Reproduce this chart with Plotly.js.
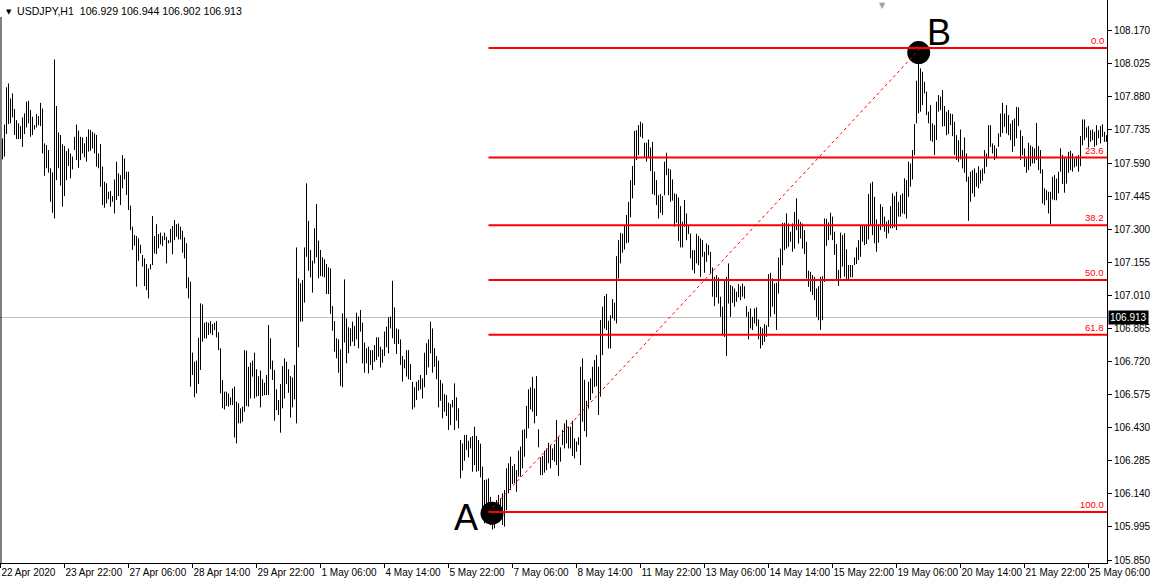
<!DOCTYPE html>
<html>
<head>
<meta charset="utf-8">
<script src="https://cdn.plot.ly/plotly-3.0.1.min.js"></script>
<style>
html,body{margin:0;padding:0;background:#fff;}
#chart{width:1155px;height:580px;}
</style>
</head>
<body>
<div id="chart"></div>
<script>
// ---- data ----
const symbol = 'USDJPY,H1';
const lastQuote = [106.929, 106.944, 106.902, 106.913]; // open high low close
const currentPrice = 106.913;
const firstBar = 1; // bar 0 is hidden under the left frame

const high = [
107.698,107.759,107.922,107.939,107.873,107.895,107.827,107.778,107.764,107.752,
107.790,107.808,107.859,107.863,107.822,107.793,107.756,107.805,107.796,107.854,
107.829,107.676,107.669,107.647,107.567,107.549,108.044,107.840,107.724,107.713,
107.672,107.664,107.642,107.654,107.632,107.618,107.705,107.759,107.732,107.705,
107.702,107.676,107.705,107.737,107.735,107.727,107.720,107.713,107.632,107.673,
107.574,107.508,107.501,107.464,107.467,107.445,107.518,107.596,107.545,107.537,
107.625,107.610,107.552,107.552,107.403,107.311,107.274,107.270,107.260,107.232,
107.187,107.172,107.147,107.128,107.147,107.358,107.270,107.322,107.279,107.285,
107.270,107.285,107.267,107.252,107.301,107.314,107.340,107.322,107.325,107.311,
107.293,107.264,107.238,107.089,107.070,106.759,106.719,106.724,106.824,106.975,
106.970,106.890,106.894,106.890,106.897,106.884,106.890,106.897,106.848,106.778,
106.639,106.588,106.588,106.580,106.563,106.602,106.610,106.544,106.537,106.515,
106.522,106.770,106.767,106.697,106.715,106.724,106.759,106.686,106.656,106.680,
106.642,106.627,106.661,106.880,106.822,106.724,106.683,106.598,106.551,106.621,
106.700,106.734,106.719,106.686,106.656,106.650,106.705,107.220,107.085,107.063,
107.077,107.220,107.501,107.337,107.209,107.162,107.304,107.410,107.250,107.209,
107.177,107.168,107.147,107.133,107.128,106.963,106.897,106.822,106.817,106.773,
106.931,107.080,106.909,106.870,106.865,106.895,106.876,106.934,106.917,106.946,
106.890,106.803,106.778,106.785,106.770,106.770,106.792,106.826,106.826,106.785,
106.773,106.851,106.873,106.914,106.917,107.074,106.957,106.865,106.861,106.817,
106.744,106.729,106.770,106.770,106.709,106.631,106.607,106.631,106.639,106.661,
106.646,106.759,106.800,106.817,106.895,106.865,106.778,106.744,106.724,106.639,
106.624,106.577,106.573,106.540,106.534,106.551,106.624,106.563,106.515,106.376,
106.361,106.398,106.398,106.373,106.388,106.393,106.434,106.393,106.376,106.360,
106.259,106.201,106.203,106.208,106.127,106.098,106.098,106.113,106.135,106.120,
106.142,106.157,106.252,106.274,106.303,106.262,106.271,106.244,106.329,106.347,
106.420,106.423,106.525,106.598,106.607,106.653,106.602,106.656,106.423,106.300,
106.306,106.329,106.339,106.364,106.354,106.339,106.358,106.464,106.390,106.344,
106.420,106.449,106.464,106.434,106.434,106.461,106.383,106.369,106.388,106.697,
106.734,106.640,106.548,106.631,106.646,106.697,106.726,106.748,106.697,106.902,
106.960,107.007,107.016,106.899,106.923,106.994,106.978,107.182,107.252,107.284,
107.281,107.318,107.362,107.420,107.515,107.577,107.731,107.734,107.756,107.771,
107.764,107.679,107.679,107.693,107.658,107.683,107.552,107.515,107.449,107.454,
107.445,107.596,107.635,107.566,107.562,107.518,107.457,107.454,107.439,107.401,
107.333,107.428,107.369,107.318,107.281,107.208,107.208,107.280,107.270,107.259,
107.252,107.201,107.237,107.230,107.201,107.132,107.091,107.099,107.088,107.004,
106.960,107.077,107.091,107.150,107.055,107.050,107.040,107.026,107.059,107.050,
107.062,107.050,106.963,106.938,106.953,106.916,106.953,106.957,106.904,106.872,
106.865,106.884,106.879,107.103,107.109,107.084,107.062,107.065,107.176,107.215,
107.328,107.328,107.369,107.325,107.289,107.325,107.376,107.435,107.343,107.332,
107.325,107.296,107.245,107.118,107.113,107.099,107.091,107.040,107.050,107.091,
107.094,107.347,107.345,107.330,107.372,107.355,107.289,107.235,107.121,107.285,
107.274,107.282,107.212,107.143,107.143,107.143,107.176,107.220,107.252,107.318,
107.318,107.318,107.318,107.454,107.501,107.508,107.442,107.343,107.318,107.410,
107.398,107.355,107.333,107.340,107.401,107.457,107.445,107.464,107.420,107.450,
107.457,107.523,107.515,107.596,107.588,107.647,107.761,107.951,108.070,108.005,
107.990,107.946,107.903,107.815,107.844,107.764,107.756,107.859,107.888,107.881,
107.910,107.840,107.815,107.822,107.807,107.804,107.771,107.712,107.690,107.737,
107.647,107.702,107.632,107.530,107.552,107.559,107.566,107.547,107.576,107.559,
107.566,107.647,107.632,107.756,107.756,107.676,107.668,107.654,107.720,107.807,
107.854,107.807,107.844,107.800,107.763,107.778,107.785,107.836,107.834,107.734,
107.708,107.654,107.610,107.679,107.668,107.661,107.654,107.766,107.664,107.647,
107.562,107.479,107.471,107.464,107.464,107.530,107.537,107.522,107.552,107.654,
107.625,107.614,107.610,107.639,107.644,107.632,107.610,107.620,107.625,107.708,
107.781,107.781,107.746,107.752,107.734,107.737,107.727,107.756,107.734,107.752,
107.760,107.727,107.712
];

const low = [
107.606,107.618,107.717,107.761,107.764,107.790,107.713,107.695,107.695,107.695,
107.661,107.717,107.746,107.764,107.705,107.713,107.737,107.746,107.756,107.752,
107.632,107.534,107.567,107.548,107.420,107.372,107.347,107.515,107.567,107.491,
107.399,107.445,107.515,107.577,107.523,107.562,107.647,107.603,107.569,107.603,
107.632,107.615,107.596,107.640,107.644,107.654,107.632,107.574,107.567,107.486,
107.406,107.394,107.413,107.431,107.399,107.420,107.369,107.428,107.445,107.406,
107.479,107.518,107.450,107.384,107.296,107.209,107.228,107.048,107.162,107.194,
107.136,107.051,107.033,106.997,107.124,107.143,107.194,107.191,107.216,107.233,
107.226,107.252,107.150,107.238,107.241,107.190,107.252,107.267,107.255,107.255,
107.197,107.172,107.041,106.997,106.610,106.661,106.563,106.580,106.621,106.683,
106.807,106.821,106.821,106.836,106.843,106.836,106.858,106.826,106.770,106.580,
106.515,106.510,106.525,106.522,106.529,106.529,106.387,106.361,106.449,106.449,
106.456,106.500,106.525,106.522,106.558,106.654,106.558,106.566,106.569,106.519,
106.569,106.573,106.573,106.573,106.686,106.639,106.461,106.507,106.486,106.408,
106.515,106.558,106.621,106.583,106.474,106.519,106.554,106.449,106.782,106.895,
106.895,106.978,107.179,107.118,107.089,107.022,107.150,107.177,107.085,107.095,
107.092,107.089,107.016,107.016,106.928,106.855,106.763,106.734,106.671,106.613,
106.607,106.803,106.712,106.756,106.788,106.807,106.788,106.817,106.778,106.851,
106.712,106.671,106.712,106.668,106.705,106.683,106.719,106.727,106.741,106.694,
106.715,106.744,106.782,106.756,106.865,106.822,106.797,106.753,106.797,106.705,
106.632,106.690,106.654,106.642,106.639,106.510,106.519,106.551,106.592,106.598,
106.558,106.607,106.661,106.694,106.756,106.671,106.697,106.642,106.519,106.548,
106.471,106.500,106.481,106.420,106.442,106.519,106.420,106.461,106.427,106.208,
106.242,106.285,106.332,106.300,106.339,106.237,106.266,106.237,106.240,106.212,
106.040,106.011,106.011,106.018,106.003,105.984,105.989,106.040,106.054,106.062,
106.003,105.996,106.069,106.142,106.157,106.183,106.186,106.149,106.215,106.215,
106.252,106.303,106.383,106.427,106.510,106.500,106.449,106.481,106.344,106.222,
106.222,106.233,106.244,106.274,106.252,106.288,106.281,106.266,106.218,106.281,
106.354,106.339,106.361,106.339,106.339,106.306,106.296,106.325,106.354,106.266,
106.456,106.415,106.390,106.514,106.551,106.580,106.609,106.612,106.485,106.566,
106.748,106.865,106.858,106.777,106.777,106.909,106.899,106.887,107.084,107.150,
107.197,107.211,107.238,107.241,107.352,107.435,107.493,107.603,107.625,107.705,
107.698,107.617,107.596,107.617,107.555,107.454,107.449,107.406,107.347,107.372,
107.362,107.449,107.537,107.449,107.420,107.425,107.311,107.328,107.249,107.220,
107.220,107.311,107.252,107.279,107.172,107.121,107.106,107.150,107.142,107.091,
107.179,107.109,107.157,107.186,107.106,107.004,106.963,107.001,106.974,106.916,
106.836,106.828,106.744,106.974,106.916,106.977,106.960,106.982,107.001,106.989,
107.004,106.996,106.916,106.817,106.865,106.858,106.887,106.875,106.817,106.777,
106.792,106.806,106.828,106.872,106.916,106.960,106.928,106.858,107.018,107.077,
107.142,107.208,107.215,107.223,107.245,107.201,107.215,107.296,107.237,107.259,
107.215,107.191,107.084,107.047,107.026,107.011,106.989,106.916,106.901,106.858,
106.901,107.069,107.227,107.252,107.274,107.252,107.187,107.077,107.051,107.084,
107.136,107.092,107.074,107.077,107.089,107.089,107.143,107.147,107.165,107.179,
107.245,107.230,107.235,107.255,107.318,107.274,107.238,107.201,107.241,107.296,
107.311,107.289,107.260,107.282,107.304,107.304,107.308,107.296,107.355,107.355,
107.369,107.366,107.347,107.442,107.486,107.518,107.625,107.764,107.808,107.815,
107.844,107.895,107.800,107.764,107.688,107.683,107.625,107.691,107.815,107.822,
107.750,107.752,107.712,107.717,107.756,107.708,107.625,107.603,107.595,107.606,
107.566,107.547,107.508,107.337,107.420,107.457,107.442,107.486,107.479,107.500,
107.512,107.544,107.573,107.610,107.661,107.632,107.603,107.610,107.661,107.705,
107.722,107.749,107.720,107.712,107.690,107.639,107.664,107.698,107.752,107.603,
107.625,107.573,107.547,107.559,107.576,107.588,107.588,107.603,107.559,107.544,
107.413,107.405,107.427,107.369,107.322,107.430,107.427,107.427,107.457,107.552,
107.498,107.460,107.500,107.547,107.559,107.552,107.571,107.576,107.552,107.576,
107.668,107.690,107.702,107.658,107.683,107.690,107.661,107.668,107.698,107.676,
107.705,107.683,107.683
];

const xTickBars = [0,32,64,96,128,160,192,224,256,288,320,352,384,416,448,480,512,544];
const xTickText = ['22 Apr 2020','23 Apr 22:00','27 Apr 06:00','28 Apr 14:00','29 Apr 22:00',
  '1 May 06:00','4 May 14:00','5 May 22:00','7 May 06:00','8 May 14:00','11 May 22:00',
  '13 May 06:00','14 May 14:00','15 May 22:00','19 May 06:00','20 May 14:00','21 May 22:00','25 May 06:00'];
const yTickVals = [105.850,105.995,106.140,106.285,106.430,106.575,106.720,106.865,107.010,
  107.155,107.300,107.445,107.590,107.735,107.880,108.025,108.170];

// Fibonacci retracement (A -> B)
const fibLevels = [0.0, 23.6, 38.2, 50.0, 61.8, 100.0];
const fibPriceHigh = 108.094;   // level 0.0
const fibPriceLow = 106.060;    // level 100.0
const fibStartBar = 244;
const fibEndBar = 460;
const pointA = {label:'A', bar:245.75, price:106.055};
const pointB = {label:'B', bar:459.1, price:108.074};

// ---- build traces ----
const segX = [], segY = [];
for (let k = 0; k < high.length; k++) {
  const b = firstBar + k;
  segX.push(b, b, null);
  segY.push(low[k], high[k], null);
}
const barsTrace = {
  type:'scatter', mode:'lines', x:segX, y:segY,
  line:{color:'#000000', width:1}, hoverinfo:'skip', showlegend:false
};
const pointsTrace = {
  type:'scatter', mode:'markers',
  x:[pointA.bar, pointB.bar], y:[pointA.price, pointB.price],
  marker:{color:'#000000', size:23, line:{width:0}},
  cliponaxis:false, hoverinfo:'skip', showlegend:false
};

const fibPrice = l => fibPriceHigh - (fibPriceHigh - fibPriceLow) * l / 100;
const shapes = [];
const annotations = [];
const red = '#ff0000';
fibLevels.forEach(l => {
  shapes.push({type:'line', xref:'x', yref:'y', x0:fibStartBar, x1:700, y0:fibPrice(l), y1:fibPrice(l),
    line:{color:red, width:2}});
  annotations.push({xref:'paper', yref:'y', x:1, y:fibPrice(l), xanchor:'right', yanchor:'bottom',
    xshift:-1, yshift:0, text:l.toFixed(1), showarrow:false,
    font:{family:'Liberation Sans, Arial, sans-serif', size:9.5, color:red}});
});
// dashed trend line joining the two anchors
shapes.push({type:'line', xref:'x', yref:'y', x0:fibStartBar, y0:fibPriceLow, x1:fibEndBar, y1:fibPriceHigh,
  line:{color:red, width:1, dash:'dot'}});
// current price line
shapes.push({type:'line', xref:'paper', yref:'y', x0:0, x1:1, y0:currentPrice, y1:currentPrice,
  line:{color:'#c0c0c0', width:1}, layer:'below'});
// left frame
shapes.push({type:'line', xref:'paper', yref:'paper', x0:0.0009, x1:0.0009, y0:0, y1:0.97,
  line:{color:'#000000', width:1}});

const font = 'Liberation Sans, Arial, sans-serif';
annotations.push({xref:'paper', yref:'paper', x:0, y:1, xanchor:'left', yanchor:'top', xshift:4, yshift:-6,
  text:'\u25BC', showarrow:false, font:{family:'DejaVu Sans', size:7, color:'#000'}});
annotations.push({xref:'paper', yref:'paper', x:0, y:1, xanchor:'left', yanchor:'top', xshift:15, yshift:-3,
  text: symbol + '\u00a0\u00a0' + lastQuote.map(v => v.toFixed(3)).join(' '), showarrow:false,
  font:{family:font, size:10.6, color:'#000'}});
annotations.push({xref:'paper', yref:'y', x:1, y:currentPrice, xanchor:'left', yanchor:'middle', xshift:1,
  text:currentPrice.toFixed(3), showarrow:false, bgcolor:'#000000', borderpad:1,
  font:{family:font, size:10, color:'#ffffff'}});
annotations.push({xref:'x', yref:'y', x:pointA.bar, y:pointA.price, text:pointA.label, showarrow:false,
  xshift:-26, yshift:-4, font:{family:font, size:36, color:'#000'}});
annotations.push({xref:'x', yref:'y', x:pointB.bar, y:pointB.price, text:pointB.label, showarrow:false,
  xshift:20, yshift:20, font:{family:font, size:36, color:'#000'}});
annotations.push({xref:'paper', yref:'paper', x:0.797, y:1, xanchor:'center', yanchor:'top', yshift:1,
  text:'\u25BC', showarrow:false, font:{family:'DejaVu Sans', size:8, color:'#a0a0a0'}});

const layout = {
  width:1155, height:580,
  margin:{l:0, r:48, t:0, b:17, pad:0},
  paper_bgcolor:'#ffffff', plot_bgcolor:'#ffffff',
  showlegend:false,
  xaxis:{range:[-0.25, 553.25], showgrid:false, zeroline:false, showline:true, linecolor:'#000', linewidth:1,
    ticks:'outside', ticklen:4, tickcolor:'#000', tickwidth:1, tickangle:0, automargin:false,
    tickmode:'array', tickvals:xTickBars, ticktext:xTickText, ticklabelposition:'outside right',
    ticklabelstandoff:0, ticklabeloverflow:'allow',
    tickfont:{family:font, size:10, color:'#000'}, fixedrange:true},
  yaxis:{range:[105.8369, 108.3046], side:'right', showgrid:false, zeroline:false, showline:true,
    linecolor:'#000', linewidth:1, ticks:'outside', ticklen:4, tickcolor:'#000', tickwidth:1, automargin:false,
    tickmode:'array', tickvals:yTickVals, ticktext:yTickVals.map(v => v.toFixed(3)),
    tickfont:{family:font, size:10, color:'#000'}, fixedrange:true},
  shapes:shapes,
  annotations:annotations
};

Plotly.newPlot('chart', [barsTrace, pointsTrace], layout, {displayModeBar:false, staticPlot:true});
</script>
</body>
</html>
